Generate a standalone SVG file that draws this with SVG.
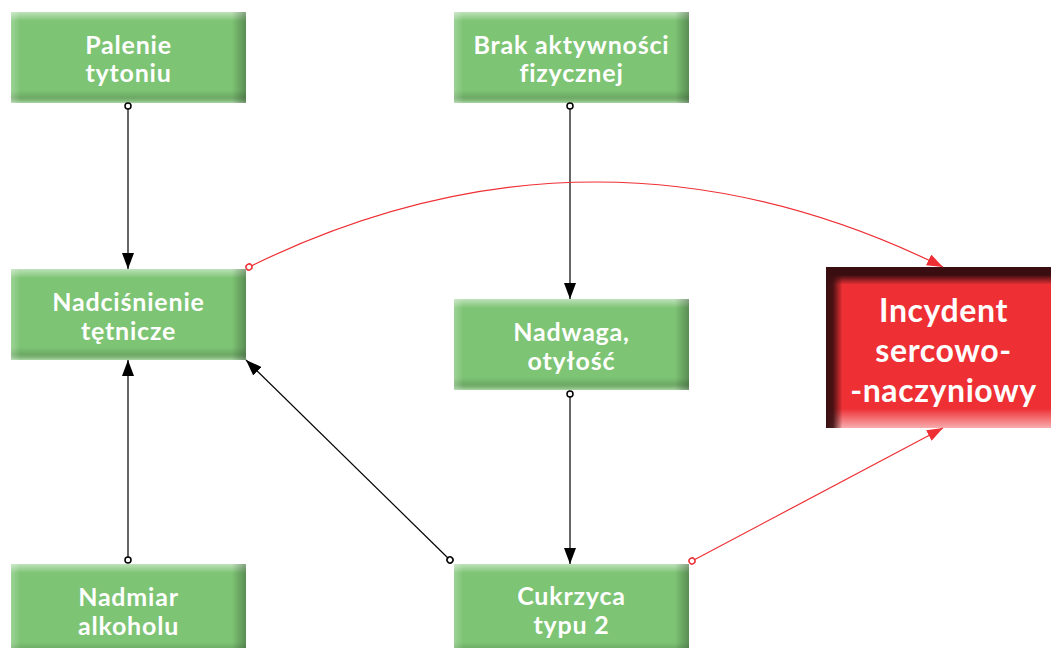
<svg xmlns="http://www.w3.org/2000/svg" width="1051" height="648" viewBox="0 0 1051 648">
<style>
.box{fill:#7DC474}
.red{fill:#EE3035}
.t{font-family:Lato,"Liberation Sans",sans-serif;font-weight:bold;fill:#fff;text-anchor:middle;font-size:25px;letter-spacing:0.8px}
.tr{font-size:32px;letter-spacing:0.6px}
.k{stroke:#000;stroke-width:1.2;fill:none}
.r{stroke:#EE3035;stroke-width:1.2;fill:none}
</style>
<defs>
<linearGradient id="gv" x1="0" y1="0" x2="0" y2="1">
<stop offset="0" stop-color="#fff" stop-opacity="0.5"/>
<stop offset="0.1" stop-color="#fff" stop-opacity="0"/>
<stop offset="0.86" stop-color="#000" stop-opacity="0"/>
<stop offset="0.93" stop-color="#000" stop-opacity="0.12"/>
<stop offset="1" stop-color="#fff" stop-opacity="0.35"/>
</linearGradient>
<linearGradient id="gh" x1="0" y1="0" x2="1" y2="0">
<stop offset="0" stop-color="#fff" stop-opacity="0.25"/>
<stop offset="0.04" stop-color="#fff" stop-opacity="0"/>
<stop offset="0.94" stop-color="#000" stop-opacity="0"/>
<stop offset="1" stop-color="#000" stop-opacity="0.28"/>
</linearGradient>
<linearGradient id="rv" x1="0" y1="0" x2="0" y2="1">
<stop offset="0" stop-color="#3A0E10" stop-opacity="1"/>
<stop offset="0.05" stop-color="#3A0E10" stop-opacity="1"/>
<stop offset="0.11" stop-color="#3A0E10" stop-opacity="0"/>
<stop offset="0.88" stop-color="#fff" stop-opacity="0"/>
<stop offset="1" stop-color="#fff" stop-opacity="0.6"/>
</linearGradient>
<linearGradient id="rh" x1="0" y1="0" x2="1" y2="0">
<stop offset="0" stop-color="#3A0E10" stop-opacity="1"/>
<stop offset="0.03" stop-color="#3A0E10" stop-opacity="0.9"/>
<stop offset="0.07" stop-color="#3A0E10" stop-opacity="0"/>
</linearGradient>
<marker id="ak" markerUnits="userSpaceOnUse" markerWidth="16" markerHeight="12" refX="16" refY="6" orient="auto">
<path d="M0,0 L16,6 L0,12 Z" fill="#000"/>
</marker>
<marker id="ar" markerUnits="userSpaceOnUse" markerWidth="16" markerHeight="12" refX="16" refY="6" orient="auto">
<path d="M0,0 L16,6 L0,12 Z" fill="#EE3035"/>
</marker>
<marker id="ck" markerUnits="userSpaceOnUse" markerWidth="10" markerHeight="10" refX="5" refY="5" orient="auto">
<circle cx="5" cy="5" r="3" fill="#fff" stroke="#000" stroke-width="1.5"/>
</marker>
<marker id="cr" markerUnits="userSpaceOnUse" markerWidth="10" markerHeight="10" refX="5" refY="5" orient="auto">
<circle cx="5" cy="5" r="3" fill="#fff" stroke="#EE3035" stroke-width="1.5"/>
</marker>
</defs>

<g id="n-palenie">
<rect class="box" x="11" y="12" width="235" height="91"/>
<rect x="11" y="12" width="235" height="91" fill="url(#gv)"/>
<rect x="11" y="12" width="235" height="91" fill="url(#gh)"/>
<text class="t" x="128.5" y="54">Palenie</text>
<text class="t" x="128.5" y="82">tytoniu</text>
</g>
<g id="n-brak">
<rect class="box" x="454" y="12" width="235" height="91"/>
<rect x="454" y="12" width="235" height="91" fill="url(#gv)"/>
<rect x="454" y="12" width="235" height="91" fill="url(#gh)"/>
<text class="t" x="571.5" y="54">Brak aktywności</text>
<text class="t" x="571.5" y="82">fizycznej</text>
</g>
<g id="n-nadcisnienie">
<rect class="box" x="11" y="269" width="235" height="91"/>
<rect x="11" y="269" width="235" height="91" fill="url(#gv)"/>
<rect x="11" y="269" width="235" height="91" fill="url(#gh)"/>
<text class="t" x="128.5" y="311">Nadciśnienie</text>
<text class="t" x="128.5" y="340">tętnicze</text>
</g>
<g id="n-nadwaga">
<rect class="box" x="454" y="299" width="235" height="91"/>
<rect x="454" y="299" width="235" height="91" fill="url(#gv)"/>
<rect x="454" y="299" width="235" height="91" fill="url(#gh)"/>
<text class="t" x="571.5" y="341">Nadwaga,</text>
<text class="t" x="571.5" y="370">otyłość</text>
</g>
<g id="n-nadmiar">
<rect class="box" x="11" y="564" width="235" height="91"/>
<rect x="11" y="564" width="235" height="91" fill="url(#gv)"/>
<rect x="11" y="564" width="235" height="91" fill="url(#gh)"/>
<text class="t" x="128.5" y="606">Nadmiar</text>
<text class="t" x="128.5" y="635">alkoholu</text>
</g>
<g id="n-cukrzyca">
<rect class="box" x="454" y="564" width="235" height="91"/>
<rect x="454" y="564" width="235" height="91" fill="url(#gv)"/>
<rect x="454" y="564" width="235" height="91" fill="url(#gh)"/>
<text class="t" x="571.5" y="605">Cukrzyca</text>
<text class="t" x="571.5" y="634">typu 2</text>
</g>
<g id="n-incydent">
<rect class="red" x="826" y="267" width="235" height="161"/>
<rect x="826" y="267" width="235" height="161" fill="url(#rv)"/>
<rect x="826" y="267" width="235" height="161" fill="url(#rh)"/>
<text class="t tr" x="943.5" y="322">Incydent</text>
<text class="t tr" x="943.5" y="362">sercowo-</text>
<text class="t tr" x="943.5" y="402">-naczyniowy</text>
</g>

<g id="connectors">
<path class="k" d="M128,106 L128,269" marker-start="url(#ck)" marker-end="url(#ak)"/>
<path class="k" d="M128,560 L128,360" marker-start="url(#ck)" marker-end="url(#ak)"/>
<path class="k" d="M570,106 L570,299" marker-start="url(#ck)" marker-end="url(#ak)"/>
<path class="k" d="M570,394 L570,564" marker-start="url(#ck)" marker-end="url(#ak)"/>
<path class="k" d="M450,560 L246,360" marker-start="url(#ck)" marker-end="url(#ak)"/>
<path class="r" d="M249,267 Q596,97 943,267" marker-start="url(#cr)" marker-end="url(#ar)"/>
<path class="r" d="M692,561 L943,428" marker-start="url(#cr)" marker-end="url(#ar)"/>
</g>
</svg>
